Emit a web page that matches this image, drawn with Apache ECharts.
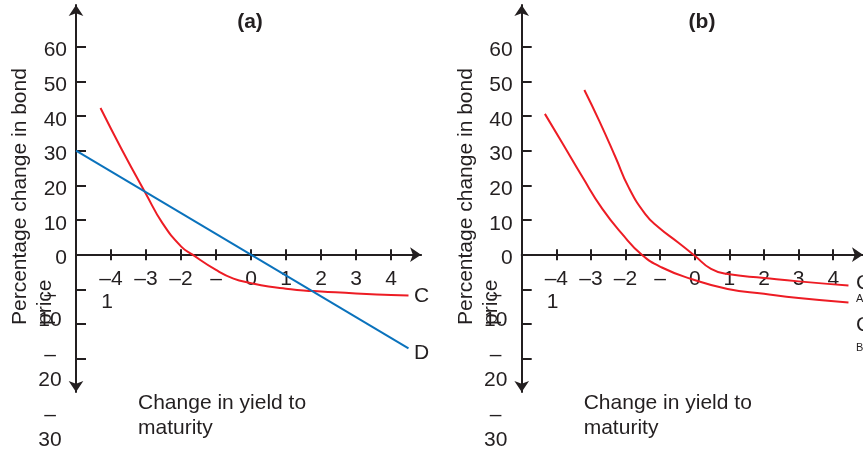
<!DOCTYPE html>
<html><head><meta charset="utf-8">
<script src="https://cdn.jsdelivr.net/npm/echarts@6/dist/echarts.min.js"></script>
<style>html,body{margin:0;padding:0;background:#fff}#c{width:863px;height:452px}</style>
</head><body><div id="c"></div><script>
// ---- data ----
const xTicks = [-4, -3, -2, -1, 0, 1, 2, 3, 4];
const yTicks = [-30, -20, -10, 0, 10, 20, 30, 40, 50, 60];
const yLabels = [0, 10, 20, 30, 40, 50, 60];
const negLabelLines = ['\u2013', '10', '\u2013', '20', '\u2013', '30'];
const panelTitles = ['(a)', '(b)'];
const xNameLines = ['Change in yield to', 'maturity'];
const yNameLines = ['Percentage change in bond', 'price'];
const panelA_C = [[-4.3,42.3],[-3.7,30.5],[-3.0,17.5],[-2.53,9.1],[-2.0,2.4],[-1.67,0],[-1.0,-4.4],[-0.5,-6.9],[0,-8.2],[0.5,-9.2],[1,-9.8],[1.5,-10.3],[2,-10.6],[3,-11.2],[4,-11.6],[4.5,-11.8]];
const panelA_D = [[-5,30],[4.5,-27]];
const panelB_A = [[-3.19,47.5],[-2.76,38.6],[-2.29,28.1],[-1.91,19.4],[-1.43,11.7],[-1.05,7.9],[-0.48,3.5],[0,-0.3],[0.47,-4.1],[0.95,-5.6],[2,-6.7],[3,-7.7],[4.44,-8.9]];
const panelB_B = [[-4.33,40.6],[-3.81,31.9],[-3.24,22.3],[-2.67,13.2],[-2.10,6.0],[-1.53,0],[-0.95,-3.7],[-0.1,-7.0],[0.95,-9.9],[2,-11.3],[3,-12.5],[4.44,-13.8]];

// ---- style ----
const INK = '#231f20', RED = '#ed1c24', BLUE = '#0a72bc';
const FF = '"Liberation Sans", Arial, Helvetica, sans-serif';
const X_MIN = -5, X_MAX = 4.86, Y_MIN = -39.6, Y_MAX = 72.0;
const gridLefts = [76, 521.7];
const GRID_TOP = 5, GRID_H = 387, GRID_W = 345.1;
// x axis drawn at y = 0: shift the bottom axis up to the zero line
const zeroOffset = -GRID_H * (0 - Y_MIN) / (Y_MAX - Y_MIN);

const chart = echarts.init(document.getElementById('c'));
const fmtX = v => v === -1 ? '\u2013' : (v < 0 ? '\u2013' + (-v) : String(v));

const grids = [], xAxes = [], yAxes = [];
gridLefts.forEach((left, i) => {
  grids.push({left: left, top: GRID_TOP, width: GRID_W, height: GRID_H, containLabel: false});
  const axLine = {color: INK, width: 2};
  xAxes.push({
    gridIndex: i, type: 'value', min: X_MIN, max: X_MAX, position: 'bottom', offset: zeroOffset,
    axisLine: {show: true, onZero: false, lineStyle: axLine, symbol: ['none', 'arrow'], symbolSize: [11, 11]},
    axisTick: {show: true, customValues: xTicks, inside: false, length: 5.5, lineStyle: {color: INK, width: 2}},
    axisLabel: {show: true, customValues: xTicks, formatter: fmtX, margin: 14, fontSize: 21, color: INK, fontFamily: FF},
    splitLine: {show: false}
  });
  xAxes.push({
    gridIndex: i, type: 'value', min: X_MIN, max: X_MAX, position: 'bottom', offset: zeroOffset,
    axisLine: {show: false, onZero: false},
    axisTick: {show: true, customValues: xTicks, inside: true, length: 5.5, lineStyle: {color: INK, width: 2}},
    axisLabel: {show: false},
    splitLine: {show: false}
  });
  yAxes.push({
    gridIndex: i, type: 'value', min: Y_MIN, max: Y_MAX,
    axisLine: {show: true, onZero: false, lineStyle: axLine, symbol: ['arrow', 'arrow'], symbolSize: [11, 11]},
    axisTick: {show: true, customValues: yTicks, inside: true, length: 10, lineStyle: {color: INK, width: 2}},
    axisLabel: {show: true, customValues: yLabels, margin: 9, fontSize: 21, color: INK, fontFamily: FF, verticalAlign: 'top', lineHeight: 8},
    splitLine: {show: false}
  });
});

const mkLine = (data, xi, yi, color, smooth) => ({
  type: 'line', xAxisIndex: xi, yAxisIndex: yi, data: data, showSymbol: false, symbol: 'none',
  smooth: smooth, lineStyle: {color: color, width: 2}, silent: true, z: 3
});

const series = [
  mkLine(panelA_C, 0, 0, RED, 0.5),
  mkLine(panelA_D, 0, 0, BLUE, false),
  mkLine(panelB_A, 2, 1, RED, 0.5),
  mkLine(panelB_B, 2, 1, RED, 0.5)
];

const txt = (text, x, y, opt) => Object.assign({
  type: 'text', x: x, y: y, silent: true, z: 10,
  style: Object.assign({text: text, fill: INK, font: '21px ' + FF, textAlign: 'left', textVerticalAlign: 'middle'}, (opt && opt.style) || {})
}, (opt && opt.el) || {});

const graphic = [];
const titleX = [250, 702];
panelTitles.forEach((t, i) => graphic.push(txt(t, titleX[i], 22, {style: {font: 'bold 21px ' + FF, textAlign: 'center'}})));
gridLefts.forEach((left, i) => {
  graphic.push({
    type: 'text', x: left - 68, y: 325, rotation: Math.PI / 2, silent: true, z: 12,
    style: {text: yNameLines.join('\n'), fill: INK, font: '21px ' + FF, textAlign: 'left', textVerticalAlign: 'top', lineHeight: 25}
  });
  negLabelLines.forEach((s, k) => {
    const y = 295 + Math.floor(k / 2) * 60 + (k % 2) * 25;
    graphic.push(txt(s, left - 26, y, {style: {textAlign: 'center'}, el: {z: 9}}));
  });
  graphic.push(txt('1', left + 31, 302, {style: {textAlign: 'center'}}));
  xNameLines.forEach((s, k) => graphic.push(txt(s, left + 62, 403 + k * 25)));
});
graphic.push(txt('C', 414, 296));
graphic.push(txt('D', 414, 353));
graphic.push(txt('C', 856, 283));
graphic.push(txt('A', 856, 299, {style: {font: '11px ' + FF}}));
graphic.push(txt('C', 856, 325));
graphic.push(txt('B', 856, 348, {style: {font: '11px ' + FF}}));

chart.setOption({
  animation: false,
  backgroundColor: '#ffffff',
  grid: grids, xAxis: xAxes, yAxis: yAxes, series: series, graphic: graphic
});
</script></body></html>
